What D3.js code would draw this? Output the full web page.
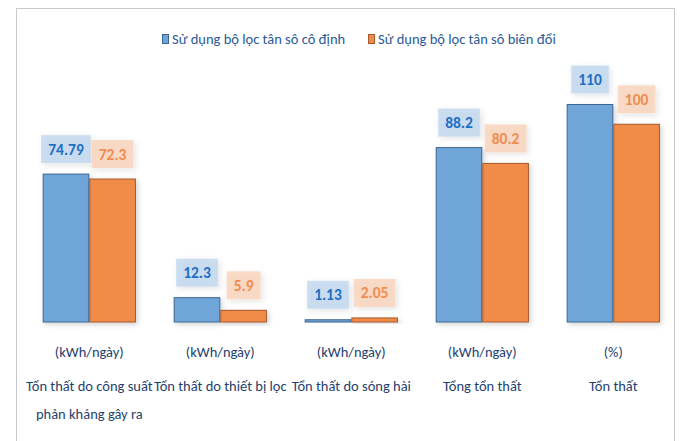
<!DOCTYPE html>
<html><head><meta charset="utf-8">
<script src="https://cdn.jsdelivr.net/npm/d3@7"></script>
<style>
html,body{margin:0;padding:0;background:#fff;}
svg{display:block;}
text{font-family:"Carlito","Lato",sans-serif;}
</style></head>
<body>
<svg id="chart" width="682" height="441"></svg>
<script>
const categories = ["Tổn thất do công suất|phản kháng gây ra","Tổn thất do thiết bị lọc","Tổn thất do sóng hài","Tổng tổn thất","Tổn thất"];
const units = ["(kWh/ngày)","(kWh/ngày)","(kWh/ngày)","(kWh/ngày)","(%)"];
const seriesNames = ["Sử dụng bộ lọc tân sô cô định","Sử dụng bộ lọc tân sô biên đổi"];
const fixedFilter = [74.79, 12.3, 1.13, 88.2, 110];
const variableFilter = [72.3, 5.9, 2.05, 80.2, 100];
const valueLabels = [["74.79","12.3","1.13","88.2","110"],["72.3","5.9","2.05","80.2","100"]];

const series = [fixedFilter, variableFilter];
const barFill = ["#6fa5d9","#f08c47"];
const barStroke = ["#3d6690","#a5582a"];
const labelFill = ["#bcd4ee","#f8d0b6"];
const labelColor = ["#1f6fc4","#ef8d50"];
const textColor = "#1f3f6e";

const svg = d3.select("#chart");
const defs = svg.append("defs");
const f = defs.append("filter").attr("id","sh").attr("x","-30%").attr("y","-30%").attr("width","160%").attr("height","160%");
f.append("feDropShadow").attr("dx",2).attr("dy",2).attr("stdDeviation",2.5).attr("flood-color","#000").attr("flood-opacity",0.18);
const f2 = defs.append("filter").attr("id","sh2").attr("x","-30%").attr("y","-30%").attr("width","160%").attr("height","160%");
f2.append("feDropShadow").attr("dx",2).attr("dy",2).attr("stdDeviation",3).attr("flood-color","#000").attr("flood-opacity",0.15);

// frame
svg.append("rect").attr("x",16.5).attr("y",8.5).attr("width",658).attr("height",440)
  .attr("fill","none").attr("stroke","#c9c9c9").attr("stroke-width",1);

const x0 = d3.scaleBand().domain(d3.range(categories.length)).range([23.8,678.8]).paddingInner(0.2885).paddingOuter(0.14425);
const x1 = d3.scaleBand().domain([0,1]).range([0,x0.bandwidth()]);
const y = d3.scaleLinear().domain([0,110]).range([322,104.5]);

const g = svg.append("g");
series.forEach((vals, s) => {
  g.selectAll(".bar"+s).data(vals).join("rect")
    .attr("x",(d,i)=>x0(i)+x1(s)+0.5)
    .attr("y",d=>y(d))
    .attr("width",x1.bandwidth()-1)
    .attr("height",d=>y(0)-y(d))
    .attr("fill",barFill[s]).attr("stroke",barStroke[s]).attr("stroke-width",1)
    .attr("filter","url(#sh)");
});

// value labels
series.forEach((vals, s) => {
  vals.forEach((d,i) => {
    const cx = x0(i)+x1(s)+x1.bandwidth()/2;
    const cy = y(d)-25;
    const lg = svg.append("g");
    const t = lg.append("text").attr("x",cx).attr("y",cy).attr("text-anchor","middle")
      .attr("dominant-baseline","central").attr("font-size",15.5).attr("font-weight","bold")
      .attr("fill",labelColor[s]).text(valueLabels[s][i]);
    const w = t.node().getComputedTextLength();
    lg.insert("rect","text").attr("x",cx-w/2-7).attr("y",cy-14).attr("width",w+14).attr("height",28)
      .attr("fill",labelFill[s]).attr("fill-opacity",0.75).attr("filter","url(#sh2)");
  });
});

// units and categories
const xc = i => x0(i)+x0.bandwidth()/2;
svg.selectAll(".unit").data(units).join("text")
  .attr("x",(d,i)=>xc(i)).attr("y",352).attr("text-anchor","middle").attr("dominant-baseline","central")
  .attr("font-size",14.5).attr("fill",textColor).text(d=>d);
categories.forEach((c,i)=>{
  c.split("|").forEach((line,k)=>{
    svg.append("text").attr("x",xc(i)).attr("y",386+k*28).attr("text-anchor","middle")
      .attr("dominant-baseline","central").attr("font-size",14.5).attr("fill",textColor).text(line);
  });
});

// legend
const lx = [162, 368];
seriesNames.forEach((n,s)=>{
  svg.append("rect").attr("x",lx[s]+0.5).attr("y",34.5).attr("width",6).attr("height",9)
    .attr("fill",barFill[s]).attr("stroke",barStroke[s]);
  svg.append("text").attr("x",lx[s]+10).attr("y",39).attr("dominant-baseline","central")
    .attr("font-size",14.5).attr("fill","#2a5a97").text(n);
});
</script>
</body></html>
